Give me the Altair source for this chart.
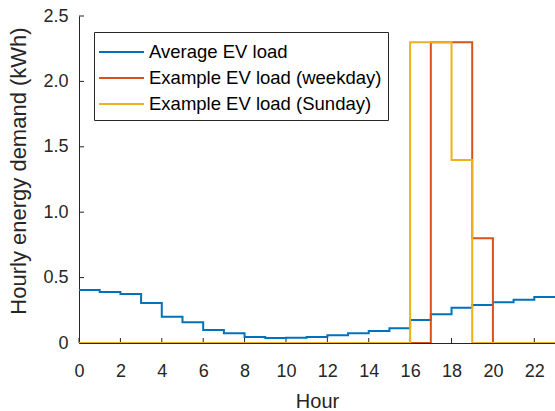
import altair as alt
import pandas as pd

hours = list(range(24))
avg_load = [0.405, 0.39, 0.375, 0.306, 0.20, 0.158, 0.10, 0.074, 0.046, 0.038,
            0.04, 0.046, 0.059, 0.074, 0.092, 0.112, 0.176, 0.219, 0.27, 0.29,
            0.311, 0.331, 0.352, 0.352]
weekday_load = [0, 0, 0, 0, 0, 0, 0, 0, 0, 0, 0, 0, 0, 0, 0, 0, 0, 2.3, 2.3, 0.8,
                0, 0, 0, 0]
sunday_load = [0, 0, 0, 0, 0, 0, 0, 0, 0, 0, 0, 0, 0, 0, 0, 0, 2.3, 2.3, 1.4, 0,
               0, 0, 0, 0]
series_names = ["Average EV load", "Example EV load (weekday)", "Example EV load (Sunday)"]
series_colors = ["#0072BD", "#D95319", "#EDB120"]
x_ticks = list(range(0, 23, 2))
y_ticks = [0, 0.5, 1.0, 1.5, 2.0, 2.5]

rows = []
for name, vals in zip(series_names, [avg_load, weekday_load, sunday_load]):
    for h, v in zip(hours, vals):
        rows.append({"hour": h, "load": v, "series": name})
df = pd.DataFrame(rows)

FONT = "Liberation Sans"
TXT = "#262626"
W, H = 476, 327

x_scale = alt.Scale(domain=[0, 23], nice=False, zero=False)
y_scale = alt.Scale(domain=[0, 2.5], nice=False)
color_scale = alt.Scale(domain=series_names, range=series_colors)

x_axis = alt.Axis(values=x_ticks, ticks=False, grid=False, labelFontSize=18, labelFont=FONT,
                  labelColor=TXT, labelPadding=33, labelBaseline="alphabetic",
                  domainColor=TXT, domainWidth=1,
                  title="Hour", titleFont=FONT, titleFontSize=20, titleFontWeight="normal",
                  titleColor=TXT, titleY=64, titleBaseline="alphabetic", labelFlush=False)
y_axis = alt.Axis(values=y_ticks, ticks=False, grid=False, labelFontSize=18, labelFont=FONT,
                  labelColor=TXT, labelPadding=11, domainColor=TXT, domainWidth=1,
                  labelExpr="datum.value == 0 ? '0' : format(datum.value, '.1f')",
                  title="Hourly energy demand (kWh)", titleFont=FONT, titleFontSize=22,
                  titleFontWeight="normal", titleColor=TXT, titleX=-54, titleY=154.5,
                  titleBaseline="alphabetic", titleAngle=270)

legend = alt.Legend(orient="none", legendX=15, legendY=16, title=None,
                    symbolType="M-1.8,0H1.8", symbolSize=625, symbolStrokeWidth=2,
                    symbolOffset=7.5, labelOffset=14,
                    labelFontSize=18.5, labelFont=FONT,
                    labelColor="#000000", strokeColor="#262626", fillColor="white",
                    padding=6.5, rowPadding=3, labelLimit=400)

xt = pd.DataFrame({"t": x_ticks})
yt = pd.DataFrame({"t": y_ticks})
xtick_layer = alt.Chart(xt).mark_rule(color=TXT, strokeWidth=1).encode(
    x=alt.X("t:Q", scale=x_scale, axis=x_axis), y=alt.value(H), y2=alt.value(H - 5))
ytick_layer = alt.Chart(yt).mark_rule(color=TXT, strokeWidth=1).encode(
    y=alt.Y("t:Q", scale=y_scale, axis=y_axis), x=alt.value(0), x2=alt.value(5))

layers = []
for i, name in enumerate(series_names):
    layers.append(
        alt.Chart(df).transform_filter(alt.datum.series == name).mark_line(
            interpolate="step-after", strokeWidth=2, clip=True
        ).encode(
            x=alt.X("hour:Q", scale=x_scale),
            y=alt.Y("load:Q", scale=y_scale),
            color=alt.Color("series:N", scale=color_scale, legend=legend if i == 0 else None),
        )
    )

chart = alt.layer(xtick_layer, ytick_layer, *layers).properties(
    width=W, height=H,
    background="white",
    autosize=alt.AutoSizeParams(type="none"),
    padding={"left": 79, "top": 16, "right": 0, "bottom": 68},
).configure_view(stroke=None)

chart.save("out.html", embed_options={"renderer": "svg", "actions": False})
